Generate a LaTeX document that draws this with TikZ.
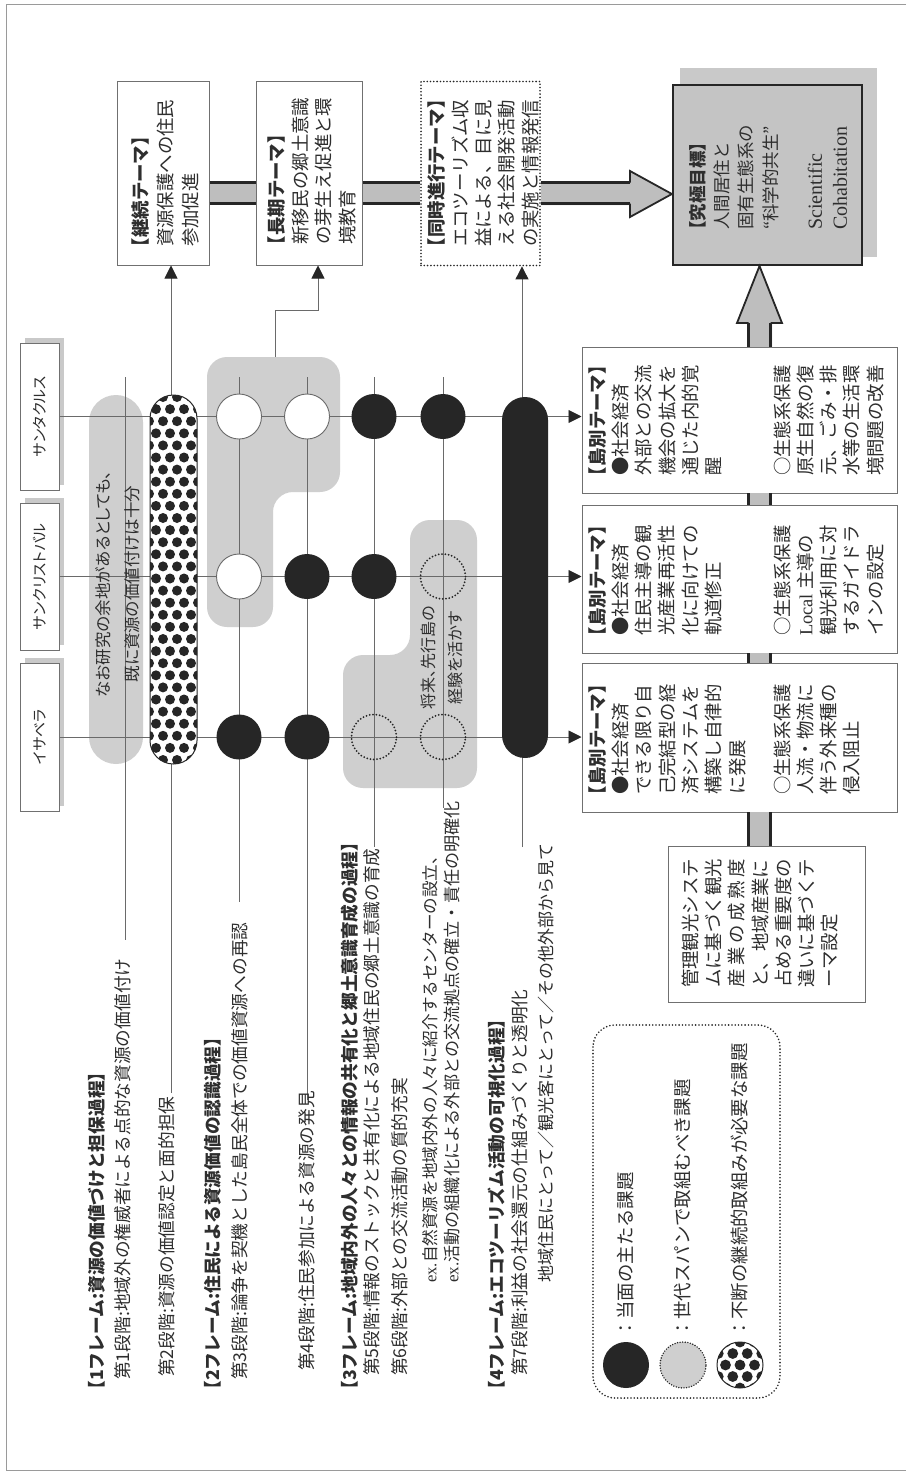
\documentclass[tikz,border=0pt]{standalone}
\usepackage{fontspec}
\setmainfont{Liberation Serif}
\newfontfamily\jp{Noto Sans CJK JP}
\newfontfamily\jpp{Noto Sans CJK JP}[RawFeature=+palt]
\newfontfamily\jph{Noto Sans CJK JP}[RawFeature=+halt]
\usetikzlibrary{arrows.meta}
\definecolor{lg}{HTML}{CFCFCF}
\definecolor{mg}{HTML}{BEBEBE}
\definecolor{kg}{HTML}{C4C4C4}
\definecolor{ln}{HTML}{6A6A6A}
\definecolor{dk}{HTML}{262626}
\definecolor{tx}{HTML}{2E2E2E}
\definecolor{bx}{HTML}{707070}
\definecolor{sh}{HTML}{C9C9C9}
\definecolor{fr}{HTML}{9A9A9A}
\begin{document}
\begin{tikzpicture}[x=1pt,y=-1pt,
 thin/.style={draw=ln,line width=0.9pt},
 arr/.style={draw=ln,line width=0.9pt,-{Triangle[length=13pt,width=13pt,color=dk]}},
 boxs/.style={draw=bx,line width=1pt,fill=white,inner sep=0pt},
 jt/.style={rotate=90,inner sep=0pt,text=tx,align=left,anchor=west,font=\jp\fontsize{18.4}{23.3}\selectfont},
 lab/.style={rotate=90,inner sep=0pt,text=tx,anchor=west,font=\jp\fontsize{17.7}{20}\selectfont},
 hd/.style={rotate=90,inner sep=0pt,text=tx,anchor=west,font=\jph\bfseries\fontsize{17.7}{20}\selectfont},
 ilab/.style={rotate=90,inner sep=0pt,text=tx,font=\jpp\fontsize{15}{18}\selectfont},
 gtx/.style={rotate=90,inner sep=0pt,text=tx,align=center,font=\jpp\fontsize{16.5}{29}\selectfont},
 dotc/.style={circle,inner sep=0pt,minimum size=45pt,draw=dk,line width=2pt,dash pattern=on 0pt off 3.3pt,line cap=round},
 blk/.style={circle,inner sep=0pt,minimum size=45pt,fill=dk},
 wht/.style={circle,inner sep=0pt,minimum size=45pt,fill=white,draw=ln,line width=0.9pt},
 bar/.style={draw=dk,line width=3pt},
 big/.style={draw=dk,line width=1.8pt,line join=miter}
]
\useasboundingbox (0,0) rectangle (906,1473);
\fill[white] (0,0) rectangle (906,1473);
% frame
\draw[fr,line width=1pt] (906,4) -- (6,4) -- (6,1470) -- (906,1470);

% gray regions
\fill[lg,rounded corners=27pt] (89,395) rectangle (143,764);
\fill[lg,rounded corners=20pt] (207,357) -- (340,357) -- (340,492) -- (273,492) -- (273,627) -- (207,627) -- cycle;
\fill[lg,rounded corners=20pt] (410,520) -- (477,520) -- (477,788) -- (343,788) -- (343,655) -- (410,655) -- cycle;

% island header boxes
\fill[sh] (25,338) rectangle (64,485);
\fill[sh] (25,498) rectangle (64,645);
\fill[sh] (25,658) rectangle (64,806);
\node[boxs,minimum width=39pt,minimum height=147pt] (hsc) at (39.5,416.5) {};
\node[boxs,minimum width=39pt,minimum height=147pt] (hscr) at (39.5,576.5) {};
\node[boxs,minimum width=39pt,minimum height=148pt] (hisa) at (39.5,737) {};
\node[ilab] (thsc) at (hsc.center) {サンタクルス};
\node[ilab] (thscr) at (hscr.center) {サンクリストバル};
\node[ilab] (thisa) at (hisa.center) {イサベラ};

% island theme boxes
\node[boxs,minimum width=315pt,minimum height=146pt] (isc) at (739.5,420) {};
\node[boxs,minimum width=315pt,minimum height=148pt] (iscr) at (739.5,579) {};
\node[boxs,minimum width=315pt,minimum height=149pt] (iisa) at (739.5,737.5) {};
\node[boxs,minimum width=197pt,minimum height=156pt] (kanri) at (766.5,924) {};

% top boxes
\node[boxs,minimum width=92pt,minimum height=184pt] (keizoku) at (163,173) {};
\node[boxs,minimum width=106pt,minimum height=184pt] (choki) at (309,173) {};
\node[draw=dk,fill=white,line width=1.8pt,dash pattern=on 0pt off 3.3pt,line cap=round,inner sep=0pt,minimum width=119pt,minimum height=184pt] (doji) at (480.5,173.5) {};
\fill[sh] (680,68) rectangle (877,257);
\node[draw=dk,fill=kg,line width=2.2pt,inner sep=0pt,minimum width=189pt,minimum height=180pt] (kyu) at (767.5,175) {};

% named line ends
\coordinate (s1t) at (125,377); \coordinate (s1b) at (125,940);
\coordinate (s2b) at (171,1093);
\coordinate (s3t) at (239,377); \coordinate (s3b) at (239,902);
\coordinate (s4t) at (307,377); \coordinate (s4b) at (307,1100);
\coordinate (s5t) at (374,377); \coordinate (s5b) at (374,847);
\coordinate (s6t) at (443,377); \coordinate (s6b) at (443,808);
\coordinate (s7b) at (522,847);
\coordinate (gtop) at (275,357);

% island lines
\draw[arr] (hsc.east) -- (hsc.east -| isc.west);
\draw[arr] (hscr.east) -- (hscr.east -| iscr.west);
\draw[arr] (hisa.east) -- (hisa.east -| iisa.west);
% stage lines
\draw[thin] (s1t) -- (s1b);
\draw[arr] (s2b) -- (s2b |- keizoku.south);
\draw[thin] (s3t) -- (s3b);
\draw[thin] (s4t) -- (s4b);
\draw[thin] (s5t) -- (s5b);
\draw[thin] (s6t) -- (s6b);
\draw[arr] (s7b) -- (s7b |- doji.south);
\draw[arr] (gtop) -- (275,310) -- (318,310) -- (318,310 |- choki.south);

% pattern pill (stage 2)
\begin{scope}
\clip[rounded corners=23.5pt] (150,395) rectangle (197,764);
\fill[white] (150,395) rectangle (197,764);
\foreach \r in {0,...,31} {
  \pgfmathsetmacro{\yy}{397+\r*12.1}
  \pgfmathsetmacro{\off}{mod(\r,2)*7}
  \foreach \c in {0,...,4} {
    \fill[dk] ({149+\off+\c*14},\yy) circle (5pt);
  }
}
\end{scope}
\draw[dk,line width=1pt,rounded corners=23.5pt] (150,395) rectangle (197,764);

% black pill (stage 7)
\fill[dk,rounded corners=23pt] (502,397) rectangle (548,758);

% circles
\node[wht] (c3a) at (239,416.5) {};
\node[wht] (c3b) at (239,576.5) {};
\node[blk] (c3c) at (239,737) {};
\node[wht] (c4a) at (307,416.5) {};
\node[blk] (c4b) at (307,576.5) {};
\node[blk] (c4c) at (307,737) {};
\node[blk] (c5a) at (374,416.5) {};
\node[blk] (c5b) at (374,576.5) {};
\node[dotc] (c5c) at (374,737) {};
\node[blk] (c6a) at (443,416.5) {};
\node[dotc] (c6b) at (443,576.5) {};
\node[dotc] (c6c) at (443,737) {};

% texts inside gray regions
\node[gtx] (nt1) at (117.5,584) {なお研究の余地があるとしても、\\既に資源の価値付けは十分};
\node[gtx,font=\jpp\fontsize{16}{27}\selectfont] (nt2) at (441.5,658) {将来、先行島の\\経験を活かす};

% left labels
\node[hd] (h1) at (97,1390) {【1フレーム:資源の価値づけと担保過程】};
\node[lab] (l1) at (123,1380) {第1段階:地域外の権威者による点的な資源の価値付け};
\node[lab] (l2) at (167,1377) {第2段階:資源の価値認定と面的担保};
\node[hd] (h2) at (213,1390) {【2フレーム:住民による資源価値の認識過程】};
\node[lab] (l3) at (240,1380) {第3段階:論争を契機とした島民全体での価値資源への再認};
\node[lab] (l4) at (307,1371) {第4段階:住民参加による資源の発見};
\node[hd] (h3) at (350,1390) {【3フレーム:地域内外の人々との情報の共有化と郷土意識育成の過程】};
\node[lab] (l5) at (372,1376) {第5段階:情報のストックと共有化による地域住民の郷土意識の育成};
\node[lab] (l6) at (400,1376) {第6段階:外部との交流活動の質的充実};
\node[lab,font=\jp\fontsize{16.6}{20}\selectfont] (e1) at (430,1283) {{\rmfamily ex.}自然資源を地域内外の人々に紹介するセンターの設立、};
\node[lab,font=\jp\fontsize{17.1}{20}\selectfont] (e2) at (452,1283) {{\rmfamily ex.}活動の組織化による外部との交流拠点の確立・責任の明確化};
\node[hd] (h4) at (497,1390) {【4フレーム:エコツーリズム活動の可視化過程】};
\node[lab] (l7) at (520,1376) {第7段階:利益の社会還元の仕組みづくりと透明化};
\node[lab,font=\jp\fontsize{17}{20}\selectfont] (e3) at (546,1283) {地域住民にとって／観光客にとって／その他外部から見て};

% box texts
\node[jt,font=\jp\fontsize{18.4}{25}\selectfont] (tkz) at (165,247) {{\jph\bfseries 【継続テーマ】}\\資源保護への住民\\参加促進};
\node[jt,font=\jp\fontsize{18.4}{23.7}\selectfont] (tck) at (312,245) {{\jph\bfseries 【長期テーマ】}\\新移民の郷土意識\\の芽生え促進と環\\境教育};
\node[jt] (tdj) at (483.5,247) {{\jph\bfseries 【同時進行テーマ】}\\エコツーリズム収\\益による、目に見\\える社会開発活動\\の実施と情報発信};
\node[jt,font=\jp\fontsize{17.5}{24.3}\selectfont] (tky1) at (734,230) {{\jph\bfseries 【究極目標】}\\人間居住と\\固有生態系の\\“科学的共生”};
\node[rotate=90,anchor=west,inner sep=0pt,align=left,text=tx,font=\fontsize{20}{25}\selectfont] (tky2) at (827.5,230) {Scientific\\Cohabitation};

\node[jt] (tsc1) at (655.2,476) {{\jph\bfseries 【島別テーマ】}\\●社会経済\\外部との交流\\機会の拡大を\\通じた内的覚\\醒};
\node[jt] (tsc2) at (828.6,476) {○生態系保護\\原生自然の復\\元、ごみ・排\\水等の生活環\\境問題の改善};
\node[jt] (tscr1) at (655.2,636) {{\jph\bfseries 【島別テーマ】}\\●社会経済\\住民主導の観\\光産業再活性\\化に向けての\\軌道修正};
\node[jt] (tscr2) at (828.6,636) {○生態系保護\\{\rmfamily Local} 主導の\\観光利用に対\\するガイドラ\\インの設定};
\node[jt] (tisa1) at (667,795) {{\jph\bfseries 【島別テーマ】}\\●社会経済\\できる限り自\\己完結型の経\\済システムを\\構築し自律的\\に発展};
\node[jt] (tisa2) at (817,795) {○生態系保護\\人流・物流に\\伴う外来種の\\侵入阻止};
\node[jt] (tkanri) at (760,988) {管理観光システ\\ムに基づく観光\\\makebox[7em][s]{産\hfill 業\hfill の\hfill 成\hfill 熟\hfill 度}\\と、地域産業に\\占める重要度の\\違いに基づくテ\\ーマ設定};

% bars between top boxes
\fill[mg] (keizoku.east |- 0,182) rectangle (choki.west |- 0,205);
\draw[bar] (keizoku.east |- 0,182.5) -- (choki.west |- 0,182.5);
\draw[bar] (keizoku.east |- 0,203.5) -- (choki.west |- 0,203.5);
\fill[mg] (choki.east |- 0,182) rectangle (doji.west |- 0,205);
\draw[bar] (choki.east |- 0,182.5) -- (doji.west |- 0,182.5);
\draw[bar] (choki.east |- 0,203.5) -- (doji.west |- 0,203.5);
% big right arrow
\fill[mg] (doji.east |- 0,182) -- (630,182) -- (630,171) -- (kyu.west |- 0,194) -- (630,217) -- (630,205) -- (doji.east |- 0,205) -- cycle;
\draw[bar] (doji.east |- 0,182.5) -- (630,182.5);
\draw[bar] (doji.east |- 0,203.5) -- (630,203.5);
\draw[big] (630,182.5) -- (630,171) -- (kyu.west |- 0,194) -- (630,217) -- (630,203.5);
% big up arrow
\fill[mg] (747,347) -- (747,323) -- (737,323) -- (759.5,265) -- (782,323) -- (772,323) -- (772,347) -- cycle;
\draw[bar] (748.5,347) -- (748.5,323);
\draw[bar] (770.5,347) -- (770.5,323);
\draw[big] (748.5,323) -- (737,323) -- (759.5,266) -- (782,323) -- (770.5,323);
% small connectors between island boxes
\fill[mg] (747,493) rectangle (772,505);
\draw[bar] (748.5,493) -- (748.5,505);
\draw[bar] (770.5,493) -- (770.5,505);
\fill[mg] (747,653) rectangle (772,663);
\draw[bar] (748.5,653) -- (748.5,663);
\draw[bar] (770.5,653) -- (770.5,663);
\fill[mg] (747,812) rectangle (772,846);
\draw[bar] (748.5,812) -- (748.5,846);
\draw[bar] (770.5,812) -- (770.5,846);

% legend
\draw[dk,line width=1.8pt,dash pattern=on 0pt off 3.3pt,line cap=round,rounded corners=22pt] (593,1025) rectangle (780,1398);
\node[blk,minimum size=46pt] (lg1) at (626,1365) {};
\node[circle,minimum size=46pt,inner sep=0pt,fill=lg,draw=dk,line width=1.6pt,dash pattern=on 0pt off 2.6pt,line cap=round] (lg2) at (683,1365) {};
\begin{scope}
\clip (740,1365) circle (23pt);
\fill[white] (740,1365) circle (23pt);
\foreach \k in {-3,...,3} {
  \pgfmathsetmacro{\ko}{0.5*mod(abs(\k),2)}
  \foreach \j in {-3,...,3} {
    \fill[dk] ({740+(\j+\ko)*14.5},{1365+\k*11.5}) circle (5.4pt);
  }
}
\end{scope}
\node[circle,minimum size=46pt,inner sep=0pt,draw=dk,line width=1pt] (lg3) at (740,1365) {};
\node[lab,font=\jp\fontsize{18.4}{22}\selectfont] (lt1) at (626,1338) {：当面の主たる課題};
\node[lab,font=\jp\fontsize{18.4}{22}\selectfont] (lt2) at (683,1338) {：世代スパンで取組むべき課題};
\node[lab,font=\jp\fontsize{18.4}{22}\selectfont] (lt3) at (740,1338) {：不断の継続的取組みが必要な課題};
\end{tikzpicture}
\end{document}
